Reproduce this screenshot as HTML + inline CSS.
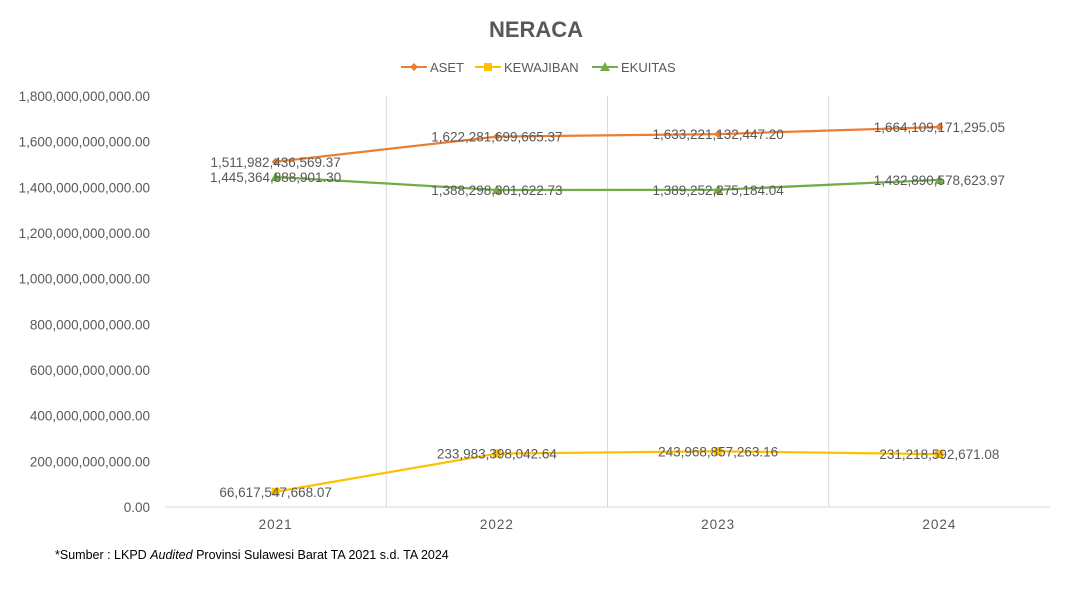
<!DOCTYPE html>
<html><head><meta charset="utf-8"><style>
body{margin:0;background:#fff;font-family:"Liberation Sans",sans-serif;}
svg text{font-family:"Liberation Sans",sans-serif;}
</style></head><body>
<svg width="1073" height="587" viewBox="0 0 1073 587">
<text x="536" y="37" text-anchor="middle" font-size="22" font-weight="bold" fill="#595959">NERACA</text>
<g id="legend">
 <g><line x1="401" y1="67" x2="427" y2="67" stroke="#ED7D31" stroke-width="2"/><path d="M414 63 L418 67 L414 71 L410 67Z" fill="#ED7D31"/><text x="430" y="72" font-size="13" fill="#595959">ASET</text></g>
 <g><line x1="475" y1="67" x2="501" y2="67" stroke="#FFC000" stroke-width="2"/><rect x="484" y="63" width="8" height="8" fill="#FFC000"/><text x="504" y="72" font-size="13" fill="#595959">KEWAJIBAN</text></g>
 <g><line x1="592" y1="67" x2="618" y2="67" stroke="#70AD47" stroke-width="2"/><path d="M605 62 L610 71 L600 71Z" fill="#70AD47"/><text x="621" y="72" font-size="13" fill="#595959">EKUITAS</text></g>
</g>
<g id="grid"></g><g id="yaxis"></g><g id="xaxis"></g><g id="series"></g><g id="labels"></g>
<text x="55" y="559" font-size="12.5" fill="#000">*Sumber : LKPD <tspan font-style="italic">Audited</tspan> Provinsi Sulawesi Barat TA 2021 s.d. TA 2024</text>
</svg>
<script>
const categories=["2021","2022","2023","2024"];
const aset=[1511982436569.37,1622281699665.37,1633221132447.20,1664109171295.05];
const kewajiban=[66617547668.07,233983398042.64,243968857263.16,231218592671.08];
const ekuitas=[1445364888901.30,1388298301622.73,1389252275184.04,1432890578623.97];
const yTicks=[0,200e9,400e9,600e9,800e9,1000e9,1200e9,1400e9,1600e9,1800e9];
const NS="http://www.w3.org/2000/svg";
const L=165,R=1050,T=96,B=507,YMAX=1800e9;
const bw=(R-L)/categories.length;
function x(i){return L+bw*(i+0.5);}
function y(v){return B-(v/YMAX)*(B-T);}
function mk(tag,attrs,parent){const e=document.createElementNS(NS,tag);for(const k in attrs)e.setAttribute(k,attrs[k]);document.getElementById(parent).appendChild(e);return e;}
function fmt(v){return v.toLocaleString('en-US',{minimumFractionDigits:2,maximumFractionDigits:2});}
for(let i=1;i<categories.length;i++){
 const g=mk('line',{x1:L+bw*i,x2:L+bw*i,y1:T,y2:B,stroke:'#d9d9d9','stroke-width':1},'grid');
 
 
}
const ax=mk('line',{x1:L,x2:R,y1:B,y2:B,stroke:'#d9d9d9','stroke-width':1},'grid');


yTicks.forEach(v=>{
 const t=mk('text',{x:150,y:y(v)+5,'text-anchor':'end','font-size':13.5,fill:'#595959'},'yaxis');
 
 
 t.textContent=fmt(v);
});
categories.forEach((c,i)=>{
 const t=mk('text',{x:x(i),y:529,'text-anchor':'middle','font-size':13.5,fill:'#595959','letter-spacing':'1'},'xaxis');
 
 
 t.textContent=c;
});
function series(data,color,name,marker){
 const pts=data.map((v,i)=>x(i)+','+y(v)).join(' ');
 const p=mk('polyline',{points:pts,fill:'none',stroke:color,'stroke-width':2.25},'series');
 
 
 data.forEach((v,i)=>{
  const cx=x(i),cy=y(v);let m;
  if(marker==='d')m=mk('path',{d:`M${cx} ${cy-4}L${cx+4} ${cy}L${cx} ${cy+4}L${cx-4} ${cy}Z`,fill:color},'series');
  else if(marker==='s')m=mk('rect',{x:cx-4,y:cy-4,width:8,height:8,fill:color},'series');
  else m=mk('path',{d:`M${cx} ${cy-5}L${cx+5} ${cy+4}L${cx-5} ${cy+4}Z`,fill:color},'series');
  
  
  const t=mk('text',{x:cx,y:cy+5,'text-anchor':'middle','font-size':13.5,fill:'#595959'},'labels');
  
  
  t.textContent=fmt(v);
 });
}
series(aset,'#ED7D31','aset','d');
series(kewajiban,'#FFC000','kewajiban','s');
series(ekuitas,'#70AD47','ekuitas','t');
</script>
</body></html>
